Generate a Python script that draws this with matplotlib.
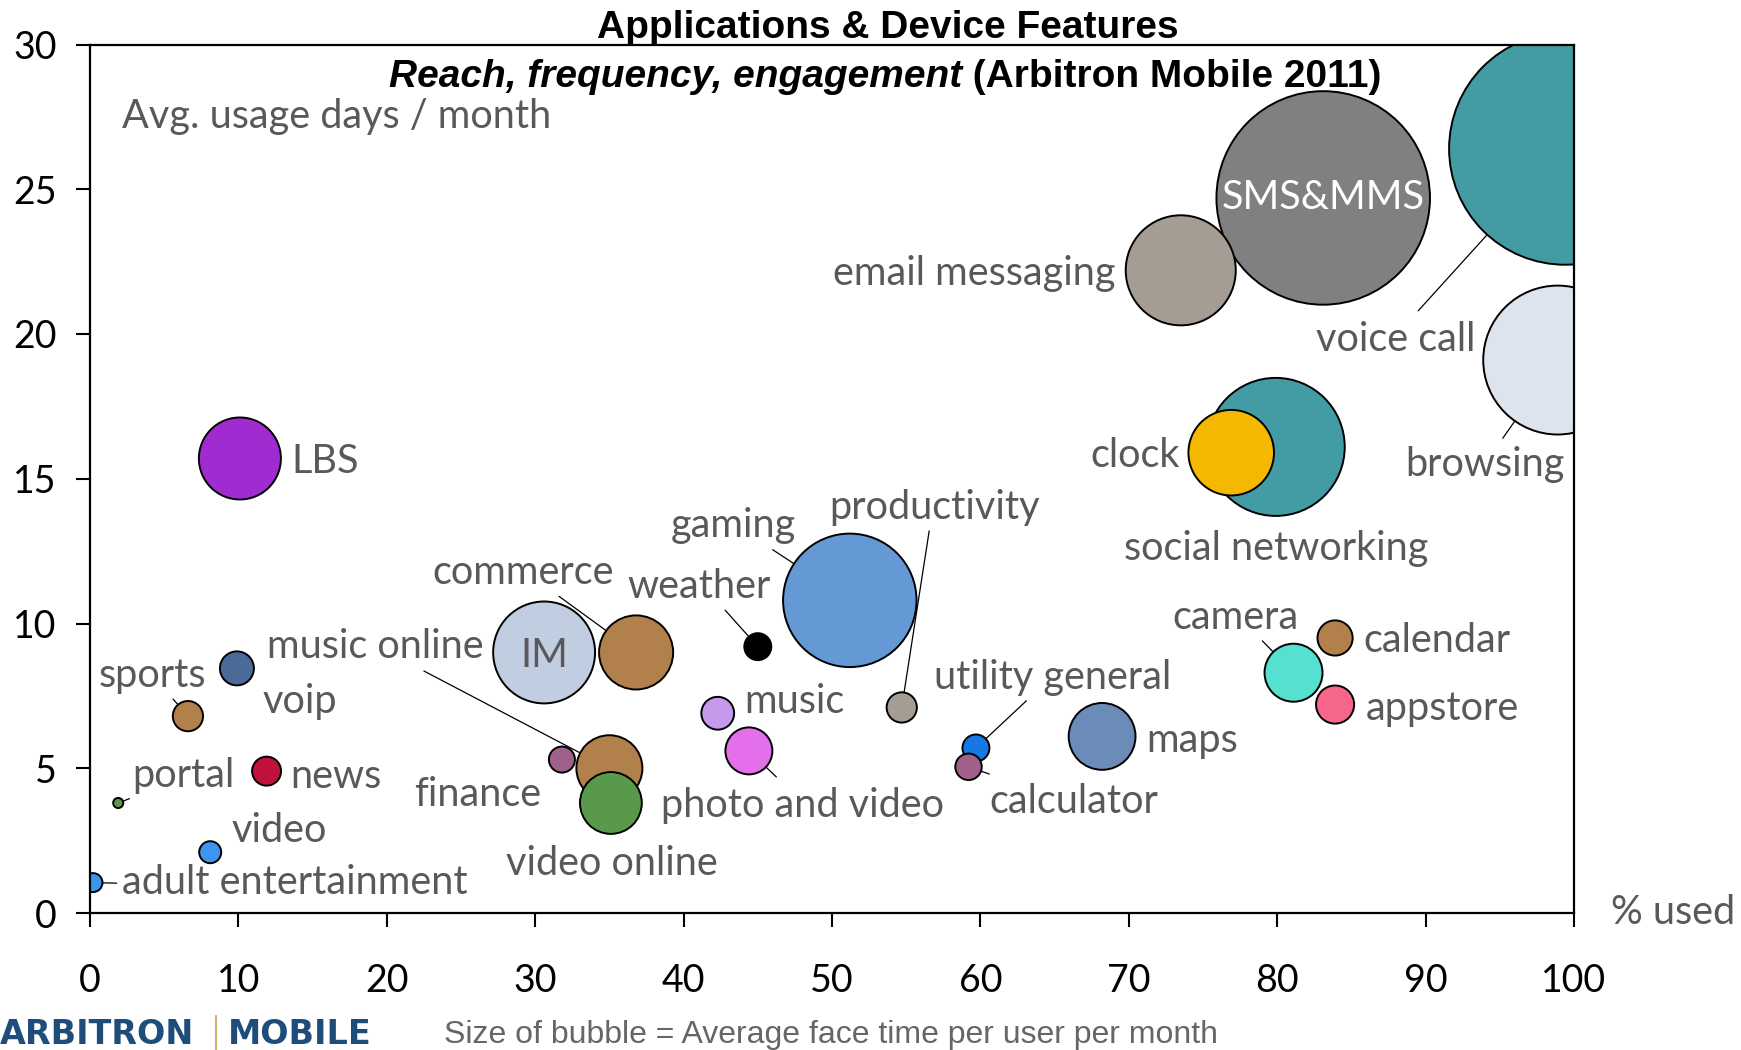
import numpy as np
import matplotlib
matplotlib.use('Agg')
from matplotlib import pyplot as plt

# bubble data: reach (% used), frequency (avg usage days / month), face time (relative, voice call = 100)
apps = ['voice call', 'SMS&MMS', 'email messaging', 'browsing', 'social networking', 'clock',
        'gaming', 'IM', 'LBS', 'commerce', 'music online', 'maps', 'video online', 'camera',
        'photo and video', 'appstore', 'calendar', 'voip', 'music', 'productivity', 'sports',
        'news', 'weather', 'utility general', 'calculator', 'finance', 'video',
        'adult entertainment', 'portal']
pct_used = [99.4, 83.1, 73.5, 98.9, 79.9, 76.9, 51.2, 30.6, 10.1, 36.8, 35.0, 68.2, 35.1, 81.1,
            44.4, 83.9, 83.9, 9.9, 42.3, 54.7, 6.6, 11.9, 45.0, 59.7, 59.2, 31.8, 8.1, 0.2, 1.9]
usage_days = [26.4, 24.7, 22.2, 19.1, 16.1, 15.9, 10.8, 9.0, 15.7, 9.0, 5.0, 6.1, 3.8, 8.3,
              5.6, 7.2, 9.5, 8.45, 6.9, 7.1, 6.8, 4.9, 9.2, 5.7, 5.05, 5.3, 2.1, 1.05, 3.8]
face_time = [100, 84.7, 22.5, 41.2, 35.4, 13.6, 33.1, 19.3, 12.5, 10.2, 8.1, 8.3, 7.1, 6.25,
             4.1, 2.7, 2.3, 2.15, 2.0, 1.7, 1.7, 1.56, 1.35, 1.35, 1.3, 1.26, 0.9, 0.67, 0.19]
colors = ['#439BA3', '#808080', '#A59D94', '#DDE4EE', '#439BA3', '#F4B800',
          '#6499D6', '#C1CDE0', '#A02BD0', '#B1804B', '#B1804B', '#6B8BB8', '#58994C', '#55E0CF',
          '#E36FEB', '#F6668A', '#B1804B', '#4A6A9A', '#C69AEB', '#A59D94', '#B1804B',
          '#C0103C', '#000000', '#1679E3', '#A0608C', '#A0608C', '#3C96EF', '#3C96EF', '#58994C']

xticks = [0, 10, 20, 30, 40, 50, 60, 70, 80, 90, 100]
yticks = [0, 5, 10, 15, 20, 25, 30]

# label layout: text position (data), alignment, leader line start (data) or None
labels = {
    'voice call': (82.6, 19.8, 'left', (89.5, 20.8)),
    'SMS&MMS': (83.1, 24.7, 'center', None),
    'email messaging': (69.1, 22.1, 'right', None),
    'browsing': (88.6, 15.5, 'left', (95.2, 16.4)),
    'social networking': (79.9, 12.6, 'center', None),
    'clock': (73.4, 15.8, 'right', None),
    'gaming': (47.6, 13.4, 'right', (46.0, 12.55)),
    'IM': (30.6, 8.9, 'center', None),
    'LBS': (13.6, 15.6, 'left', None),
    'commerce': (29.2, 11.75, 'center', (31.6, 10.94)),
    'music online': (11.9, 9.2, 'left', (22.5, 8.36)),
    'maps': (71.15, 5.95, 'left', None),
    'video online': (35.2, 1.7, 'center', None),
    'camera': (77.2, 10.2, 'center', (79.0, 9.4)),
    'photo and video': (38.5, 3.73, 'left', (46.25, 4.7)),
    'appstore': (86.0, 7.06, 'left', None),
    'calendar': (85.8, 9.4, 'left', None),
    'voip': (11.6, 7.29, 'left', None),
    'music': (44.1, 7.29, 'left', None),
    'productivity': (49.8, 14.0, 'left', (56.55, 13.2)),
    'sports': (7.8, 8.2, 'right', (5.6, 7.39)),
    'news': (13.5, 4.73, 'left', None),
    'weather': (45.9, 11.28, 'right', (42.8, 10.46)),
    'utility general': (56.9, 8.14, 'left', (63.1, 7.33)),
    'calculator': (60.6, 3.84, 'left', (60.6, 4.8)),
    'finance': (30.4, 4.11, 'right', None),
    'video': (9.57, 2.85, 'left', None),
    'adult entertainment': (2.17, 1.05, 'left', (1.8, 1.03)),
    'portal': (2.84, 4.76, 'left', (2.66, 3.95)),
}

DPI = 100
label_font = ['Lato', 'DejaVu Sans']
grey = '#595959'
label_size = 28.5

fig = plt.figure(figsize=(17.41, 10.5), dpi=DPI)
ax = fig.add_axes([90 / 1741, 1 - 913 / 1050, (1574 - 90) / 1741, (913 - 44.5) / 1050])

ft = np.array(face_time)
diam_pt = 232 * np.sqrt(ft / 100) * 72 / DPI
order = np.argsort(-ft, kind='stable')
ax.scatter(np.array(pct_used)[order], np.array(usage_days)[order], s=diam_pt[order] ** 2,
           c=np.array(colors)[order], edgecolors='black', linewidths=1.4, zorder=2)

for i, name in enumerate(apps):
    tx, ty, ha, lead = labels[name]
    col = 'white' if name == 'SMS&MMS' else grey
    ax.text(tx, ty, name, ha=ha, va='center', fontsize=label_size, color=col,
            family=label_font, zorder=5)
    if lead is not None:
        ax.annotate('', xy=(pct_used[i], usage_days[i]), xytext=lead,
                    arrowprops=dict(arrowstyle='-', color='black', lw=0.9,
                                    shrinkA=0, shrinkB=diam_pt[i] / 2), zorder=4)

ax.set_xlim(0, 100)
ax.set_ylim(0, 30)
ax.set_xticks(xticks)
ax.set_yticks(yticks)
ax.tick_params(axis='both', direction='out', length=10, width=1.5, labelsize=27)
ax.tick_params(axis='x', pad=26)
ax.tick_params(axis='y', pad=14)
for lab in ax.get_xticklabels() + ax.get_yticklabels():
    lab.set_family(label_font)
for sp in ax.spines.values():
    sp.set_linewidth(1.6)

ax.text(2.17, 27.5, 'Avg. usage days / month', ha='left', va='center', fontsize=label_size,
        color=grey, family=label_font)
ax.text(102.5, 0, '% used', ha='left', va='center', fontsize=label_size, color=grey,
        family=label_font, clip_on=False)

fig.text(888 / 1741, 1 - 28 / 1050, 'Applications & Device Features', ha='center',
         va='center', fontsize=28, fontweight='bold', family='Liberation Sans')
fig.text(962 / 1741, 1 - 77 / 1050, 'Reach, frequency, engagement', ha='right', va='center',
         fontsize=28, fontweight='bold', style='italic', family='Liberation Sans')
fig.text(962 / 1741, 1 - 77 / 1050, ' (Arbitron Mobile 2011)', ha='left', va='center',
         fontsize=28, fontweight='bold', family='Liberation Sans')

fig.text(0.0, 1 - 1034 / 1050, 'ARBITRON', ha='left', va='center', fontsize=24,
         fontweight='bold', color='#1E4D7B', family='DejaVu Sans')
fig.text(228 / 1741, 1 - 1034 / 1050, 'MOBILE', ha='left', va='center', fontsize=24,
         fontweight='bold', color='#1E4D7B', family='DejaVu Sans')
fig.add_artist(plt.Line2D([216 / 1741, 216 / 1741], [0, 1 - 1016 / 1050],
                          color='#C9A24A', lw=1.2))
fig.text(444 / 1741, 1 - 1035 / 1050, 'Size of bubble = Average face time per user per month',
         ha='left', va='center', fontsize=23, color='#666666', family='Liberation Sans')

fig.savefig('out.png', dpi=DPI)
